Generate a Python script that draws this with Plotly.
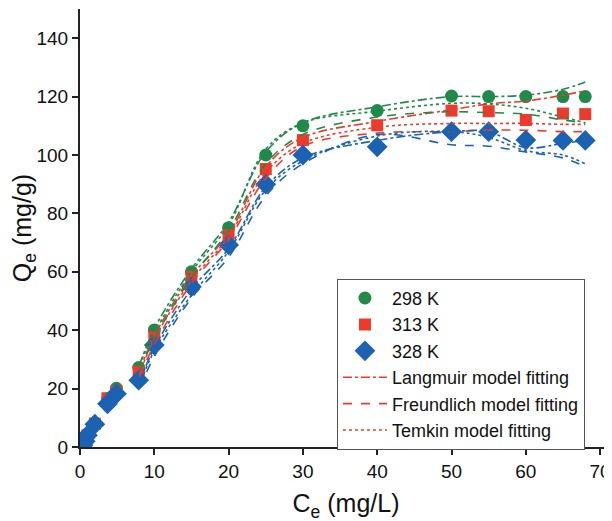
import plotly.graph_objects as go

# Experimental data
ce = [0.4, 0.7, 1.0, 2.0, 3.7, 4.9, 7.9, 10, 15, 20, 25, 30, 40, 50, 55, 60, 65, 68]
q_298 = [0.8, 2.2, 4.2, 8.2, 16.5, 20.1, 27.2, 40.1, 60.0, 75.1, 100, 110, 115.2, 120.2, 120, 120, 120, 120]
q_313 = [0.7, 2.1, 4.0, 8.0, 16.7, 19.0, 25.8, 37.8, 58.3, 72.6, 95.2, 105.1, 110.2, 115.2, 115, 112, 114.2, 114]
q_328 = [0.6, 2.0, 4.0, 7.8, 14.8, 18.2, 22.9, 34.9, 54.9, 69.2, 90, 100, 102.8, 108, 108, 105.1, 105, 105]

# Model fitting curves
ce_fit = [8, 10, 15, 20, 25, 30, 40, 50, 55, 60, 65, 68]
lang_298 = [28, 40.5, 61, 77, 101, 111, 116.5, 120, 120, 120.5, 122.5, 125]
freu_298 = [26, 37, 58, 74, 97, 107, 113, 114.8, 114.5, 114, 112, 111]
temk_298 = [28, 39, 60, 76, 102, 111, 115, 117.7, 117.5, 116, 113, 111]
lang_313 = [26, 38, 58.5, 73, 96, 106, 111.5, 115.5, 117.5, 118.5, 120.5, 122]
freu_313 = [24, 35, 56, 71, 92, 103, 107.5, 108, 108.5, 108.5, 108, 108]
temk_313 = [25, 37, 57, 72, 94, 104, 109.5, 110.8, 110.8, 110.8, 110.5, 110.5]
lang_328 = [22, 34, 54, 68, 89, 99, 105, 108, 108, 102.5, 104, 105]
freu_328 = [20, 31, 51, 65, 86, 97, 107, 103.5, 103, 101, 99, 96]
temk_328 = [21, 33, 52, 67, 88, 98, 106.5, 108, 106, 101.5, 100, 97]

series_labels = ["298 K", "313 K", "328 K"]
model_labels = ["Langmuir model fitting", "Freundlich model fitting", "Temkin model fitting"]

GREEN = "#1f8a4a"
RED = "#ee3a2c"
BLUE = "#1b62b3"

fig = go.Figure()

fig.add_trace(go.Scatter(x=ce, y=q_298, mode="markers", name=series_labels[0],
                         marker=dict(symbol="circle", size=13, color=GREEN)))
fig.add_trace(go.Scatter(x=ce, y=q_313, mode="markers", name=series_labels[1],
                         marker=dict(symbol="square", size=12, color=RED)))
fig.add_trace(go.Scatter(x=ce, y=q_328, mode="markers", name=series_labels[2],
                         marker=dict(symbol="diamond", size=16, color=BLUE)))

dashes = ["dashdot", "dash", "dot"]
fits = {
    RED: [lang_313, freu_313, temk_313],
    GREEN: [lang_298, freu_298, temk_298],
    BLUE: [lang_328, freu_328, temk_328],
}
for color, curves in fits.items():
    for i, yv in enumerate(curves):
        fig.add_trace(go.Scatter(
            x=ce_fit, y=yv, mode="lines", name=model_labels[i],
            showlegend=(color == RED),
            line=dict(color=color, dash=dashes[i], width=1.6, shape="spline"),
        ))

FONT = "Liberation Sans, Arial, sans-serif"
# page body has an 8px margin, so the figure is drawn offset by (8, 8)
fig.update_layout(
    width=612, height=521,
    margin=dict(l=72, r=8, t=1, b=82),
    paper_bgcolor="white", plot_bgcolor="white",
    font=dict(family=FONT, size=19, color="#111"),
    showlegend=True,
    legend=dict(x=0.483, y=0.384, xanchor="left", yanchor="top",
                bordercolor="#555", borderwidth=1, bgcolor="white",
                font=dict(size=18, color="#111"), tracegroupgap=0,
                itemwidth=44),
    xaxis=dict(range=[0, 71.6], tickvals=[0, 10, 20, 30, 40, 50, 60, 70],
               automargin=False,
               showline=True, linecolor="#222", linewidth=2,
               ticks="outside", ticklen=6, tickwidth=2, tickcolor="#222",
               showgrid=False, zeroline=False,
               title=dict(text="C<sub>e</sub> (mg/L)", font=dict(size=25), standoff=14)),
    yaxis=dict(range=[0, 150], tickvals=[0, 20, 40, 60, 80, 100, 120, 140],
               automargin=False,
               showline=True, linecolor="#222", linewidth=2,
               ticks="outside", ticklen=6, tickwidth=2, tickcolor="#222",
               showgrid=False, zeroline=False,
               title=dict(text="Q<sub>e</sub> (mg/g)", font=dict(size=25), standoff=10)),
)

fig.write_html("out.html")
